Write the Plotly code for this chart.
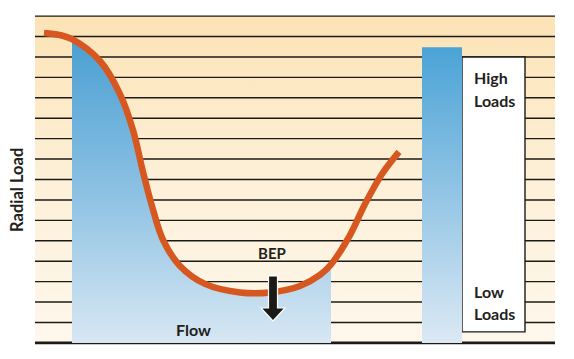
import plotly.graph_objects as go

# ---- data (flow units 0..520, radial-load units 0..16) ----
curve_flow = [9, 25, 37, 65, 85, 98, 108, 117, 128, 145, 170, 205, 235, 265, 285, 296, 315, 330, 347, 364]
curve_load = [15.17, 15.07, 14.87, 13.80, 12.18, 10.42, 8.37, 6.70, 5.04, 3.77, 2.89, 2.47, 2.47, 2.79, 3.33, 3.84,
              5.28, 6.80, 8.27, 9.35]
fill_start_idx = 2   # blue operating region starts at flow=37
fill_end_idx = 15    # ends at flow=296
grid_levels = list(range(1, 17))
plot_flow = [0, 520]
load_bar_flow = [387, 427]
load_bar_top = 14.48
legend_box_flow = [427, 490]
legend_box_load = [0.54, 14.0]
bep_flow = 238
bep_arrow_load = [3.28, 1.71, 1.08]

FONT = "Lato"
TXT = "#231f20"

fig = go.Figure()

# background gradient
x0, x1 = plot_flow
fig.add_trace(go.Scatter(
    x=[x0, x1, x1, x0, x0], y=[0, 0, 16, 16, 0], mode="lines",
    line=dict(width=0), fill="toself",
    fillgradient=dict(type="vertical",
                      colorscale=[[0, "#fef7ec"], [0.5, "#fdf0d8"], [1, "#fce3b5"]]),
    hoverinfo="skip", showlegend=False))

# horizontal lines
gx, gy = [], []
for lv in grid_levels:
    gx += [x0, x1, None]
    gy += [lv, lv, None]
fig.add_trace(go.Scatter(x=gx, y=gy, mode="lines",
                         line=dict(color="#1c1a17", width=1.4),
                         hoverinfo="skip", showlegend=False))
fig.add_trace(go.Scatter(x=[x0, x1], y=[0, 0], mode="lines",
                         line=dict(color="#1c1a17", width=2.6),
                         hoverinfo="skip", showlegend=False))

# blue operating region under curve
fx = curve_flow[fill_start_idx:fill_end_idx + 1]
fy = curve_load[fill_start_idx:fill_end_idx + 1]
fig.add_trace(go.Scatter(
    x=fx, y=fy, mode="lines",
    line=dict(width=0, shape="spline", smoothing=1.0), fill="tozeroy",
    fillgradient=dict(type="vertical",
                      colorscale=[[0, "#d8e7f3"], [0.5, "#8cc1e3"], [1, "#4a9fd2"]]),
    hoverinfo="skip", showlegend=False))

# white legend box
bx0, bx1 = legend_box_flow
by0, by1 = legend_box_load
fig.add_trace(go.Scatter(
    x=[bx0, bx1, bx1, bx0, bx0], y=[by0, by0, by1, by1, by0], mode="lines",
    line=dict(color="#1c1a17", width=1.4), fill="toself", fillcolor="white",
    hoverinfo="skip", showlegend=False))

# load bar
lx0, lx1 = load_bar_flow
fig.add_trace(go.Scatter(
    x=[lx0, lx1, lx1, lx0, lx0], y=[0, 0, load_bar_top, load_bar_top, 0], mode="lines",
    line=dict(width=0), fill="toself",
    fillgradient=dict(type="vertical",
                      colorscale=[[0, "#dce9f4"], [0.5, "#93c5e5"], [1, "#4aa3d5"]]),
    hoverinfo="skip", showlegend=False))

# radial load curve
fig.add_trace(go.Scatter(
    x=curve_flow, y=curve_load, mode="lines",
    line=dict(color="#d6571f", width=6.5, shape="spline", smoothing=1.0),
    hoverinfo="skip", showlegend=False))

# BEP arrow
sh_top, sh_bot, tip = bep_arrow_load
hw_s, hw_h = 4.5, 12
path = (f"M {bep_flow - hw_s} {sh_top} L {bep_flow + hw_s} {sh_top} L {bep_flow + hw_s} {sh_bot} "
        f"L {bep_flow + hw_h} {sh_bot} L {bep_flow} {tip} L {bep_flow - hw_h} {sh_bot} "
        f"L {bep_flow - hw_s} {sh_bot} Z")
fig.add_shape(type="path", path=path, xref="x", yref="y",
              fillcolor="#1c1a17", line=dict(color="white", width=1.2))

def label(text, x, y, xanchor="center", size=16, xref="x", **kw):
    fig.add_annotation(x=x, y=y, xref=xref, yref="y", text=f"<b>{text}</b>",
                       showarrow=False, xanchor=xanchor, yanchor="middle",
                       font=dict(family=FONT, size=size, color=TXT), **kw)

label("Flow", 158, 0.64, size=16)
label("BEP", bep_flow - 1, 4.40, size=15)
label("High", 437, 13.0, xanchor="left")
label("Loads", 437, 11.89, xanchor="left")
label("Low", 437, 2.50, xanchor="left")
label("Loads", 437, 1.42, xanchor="left")
label("Radial Load", -0.0245, 7.49, size=16.5, xref="paper", textangle=-90)

fig.update_xaxes(range=[-5, 525], visible=False, fixedrange=True)
fig.update_yaxes(range=[-0.2, 16.2], visible=False, fixedrange=True)
# page body has an 8px default margin; compensate so plot area lands at the right pixels
fig.update_layout(width=574, height=359,
                  margin=dict(l=22, r=22, t=4, b=20),
                  paper_bgcolor="white", plot_bgcolor="white",
                  showlegend=False)

fig.write_html("out.html")
